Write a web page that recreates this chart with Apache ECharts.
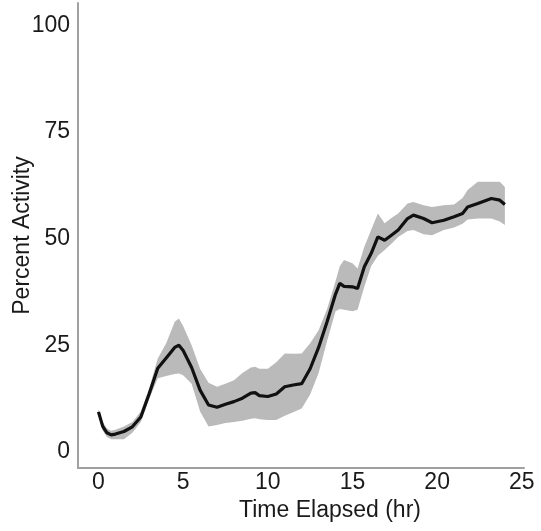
<!DOCTYPE html>
<html>
<head>
<meta charset="utf-8">
<script src="https://cdn.jsdelivr.net/npm/echarts@6/dist/echarts.min.js"></script>
<style>html,body{margin:0;padding:0;background:#fff}#c{width:541px;height:531px}</style>
</head>
<body>
<div id="c"></div>
<script>
const hours = [0,0.25,0.5,0.75,1,1.5,2,2.5,3,3.5,4,4.5,4.75,5,5.5,6,6.5,7,7.5,8,8.5,9,9.25,9.5,10,10.5,11,11.5,12,12.5,13,13.5,14,14.25,14.5,15,15.3,15.7,16.1,16.5,16.9,17.3,17.7,18.25,18.6,19.2,19.7,20.4,21,21.5,21.8,22.4,23.2,23.7,24];
const meanActivity = [9.4,6,4.5,4,4.2,4.8,5.9,8.2,13.7,19.6,22,24.5,25,23.8,19.8,14.5,11,10.5,11.2,11.8,12.6,13.8,13.9,13.2,13,13.6,15.3,15.7,16,19.5,24.5,30.5,37,39.5,38.8,38.7,38.3,43.4,46.5,50.4,49.6,50.8,52,54.7,55.5,54.7,53.7,54.3,55.1,55.9,57.4,58.2,59.4,59,58];
const lowerBound = [8.5,5,3.5,3,3,3,4.5,7,12.5,17.3,17.8,18.3,18.4,18,16,9.5,6,6.3,6.8,7,7.3,7.8,7.9,7.7,7.5,7.5,8.5,9.3,10.2,13.5,18.5,26,33,33.5,33.3,33,33.3,38.7,43.5,46,47.3,48.8,50.4,51.8,52,51,50.8,52,52.6,53.5,54.5,54.7,54.7,54,53.2];
const upperBound = [10,7,5.5,5,5.2,6,7,9.5,15,21.9,25.5,30.5,31.3,29.5,25,19.5,16.2,15.3,16,16.8,18.5,19.8,20,19.5,19.5,21,23.1,23,23.1,25.5,28.5,33.5,40,43.5,45,44.2,43,48.1,52,55.9,53.6,54.8,55.9,58.2,58.6,57.8,57.4,57.8,58,59.5,61.4,63.3,63.3,63.3,62.1];
const yTicks = [0,25,50,75,100];
const xTicks = [0,5,10,15,20,25];

const font = 'Arial, "Liberation Sans", sans-serif';
const chart = echarts.init(document.getElementById('c'));
chart.setOption({
  animation: false,
  grid: {left: 78, right: 17, top: 3, bottom: 63, containLabel: false, outerBoundsMode: 'none'},
  xAxis: {
    type: 'value', min: -1.21, max: 25.13,
    name: 'Time Elapsed (hr)', nameLocation: 'middle', nameGap: 31, nameMoveOverlap: false,
    nameTextStyle: {fontFamily: font, fontSize: 23, color: '#1a1a1a', padding: [0,0,0,58]},
    axisLine: {show: true, onZero: false, lineStyle: {color: '#a0a0a0', width: 2}},
    axisTick: {show: false},
    splitLine: {show: false},
    axisLabel: {customValues: xTicks, fontFamily: font, fontSize: 23, color: '#1a1a1a', margin: 3}
  },
  yAxis: {
    type: 'value', min: -3.75, max: 105.2,
    name: 'Percent Activity', nameLocation: 'middle', nameGap: 44, nameMoveOverlap: false,
    nameTextStyle: {fontFamily: font, fontSize: 23, color: '#1a1a1a'},
    axisLine: {show: true, onZero: false, lineStyle: {color: '#a0a0a0', width: 2}},
    axisTick: {show: false},
    splitLine: {show: false},
    axisLabel: {customValues: yTicks, fontFamily: font, fontSize: 23, color: '#1a1a1a', margin: 8}
  },
  series: [
    {type: 'custom', silent: true, data: [[hours[0], meanActivity[0]]],
     renderItem: function (params, api) {
       const top = hours.map((h, i) => api.coord([h, upperBound[i]]));
       const bot = hours.map((h, i) => api.coord([h, lowerBound[i]])).reverse();
       return {type: 'polygon', shape: {points: top.concat(bot)}, style: {fill: '#bababa'}};
     }},
    {type: 'line', symbol: 'none', lineStyle: {color: '#111111', width: 3.2},
     data: hours.map((h, i) => [h, meanActivity[i]])}
  ]
});
</script>
</body>
</html>
